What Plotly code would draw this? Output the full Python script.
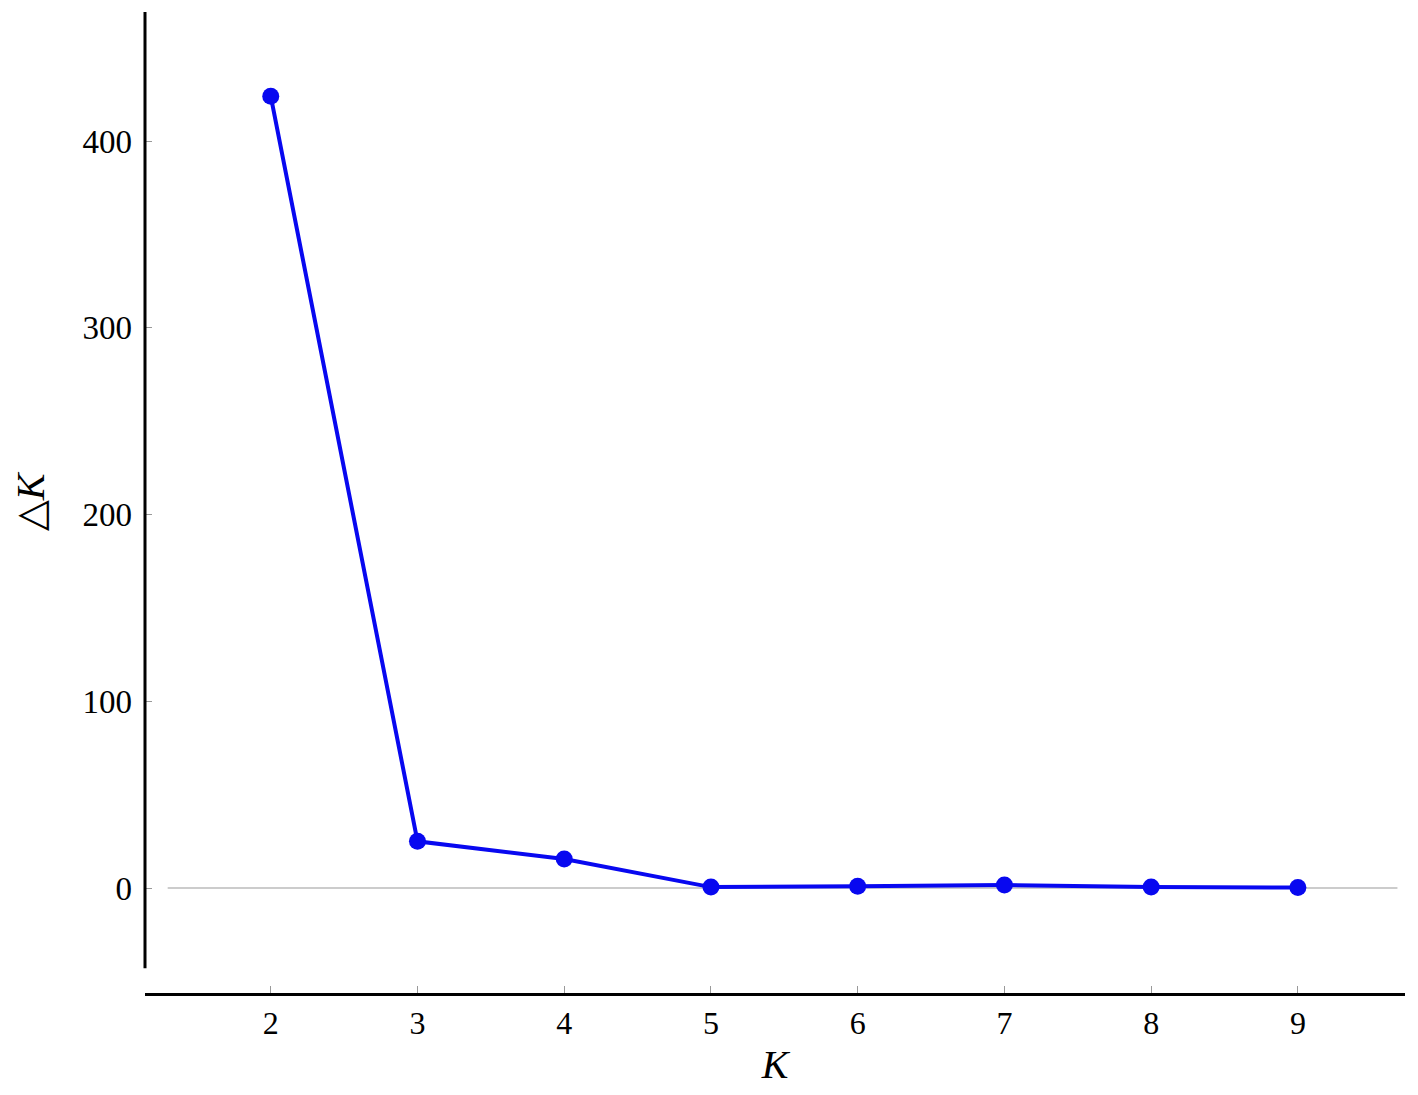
import plotly.graph_objects as go

k_values = [2, 3, 4, 5, 6, 7, 8, 9]
delta_k = [424, 25, 15.5, 0.5, 1.0, 1.6, 0.5, 0.3]
x_ticks = [2, 3, 4, 5, 6, 7, 8, 9]
y_ticks = [0, 100, 200, 300, 400]

fig = go.Figure()
fig.add_trace(go.Scatter(
    x=k_values, y=delta_k, mode="lines+markers",
    line=dict(color="#0808f0", width=4),
    marker=dict(color="#0808f0", size=17),
    showlegend=False, cliponaxis=False,
))

serif = "Liberation Serif, Times New Roman, serif"

fig.update_layout(
    width=1402, height=1079,
    margin=dict(l=137, r=5, t=4, b=94),
    paper_bgcolor="white", plot_bgcolor="white",
    font=dict(family=serif, color="black"),
    xaxis=dict(
        range=[1.143, 9.73], tickvals=x_ticks, ticktext=[str(v) for v in x_ticks],
        showgrid=False, zeroline=False,
        showline=True, linecolor="black", linewidth=3,
        ticks="inside", ticklen=7, tickcolor="#999", tickwidth=1,
        tickfont=dict(size=32, family=serif),
        title=dict(text="<i>K</i>", font=dict(size=40, family=serif), standoff=14),
    ),
    yaxis=dict(
        range=[-56.2, 469.1], tickvals=y_ticks, ticktext=[str(v) for v in y_ticks],
        showgrid=False, zeroline=False, showline=False,
        ticks="inside", ticklen=7, tickcolor="#999", tickwidth=1,
        ticklabelstandoff=12,
        tickfont=dict(size=33, family=serif),
        title=dict(text="△<i>K</i>", font=dict(size=40, family=serif), standoff=26),
    ),
)

# y axis line (ends slightly above the x axis)
fig.add_shape(type="line", xref="x domain", yref="y", x0=0, x1=0, y0=-43, y1=469.1,
              line=dict(color="black", width=3), layer="above")
# zero reference line
fig.add_shape(type="line", xref="x domain", yref="y", x0=0.018, x1=0.994, y0=0, y1=0,
              line=dict(color="#cccccc", width=2), layer="below")

fig.write_html("out.html")
